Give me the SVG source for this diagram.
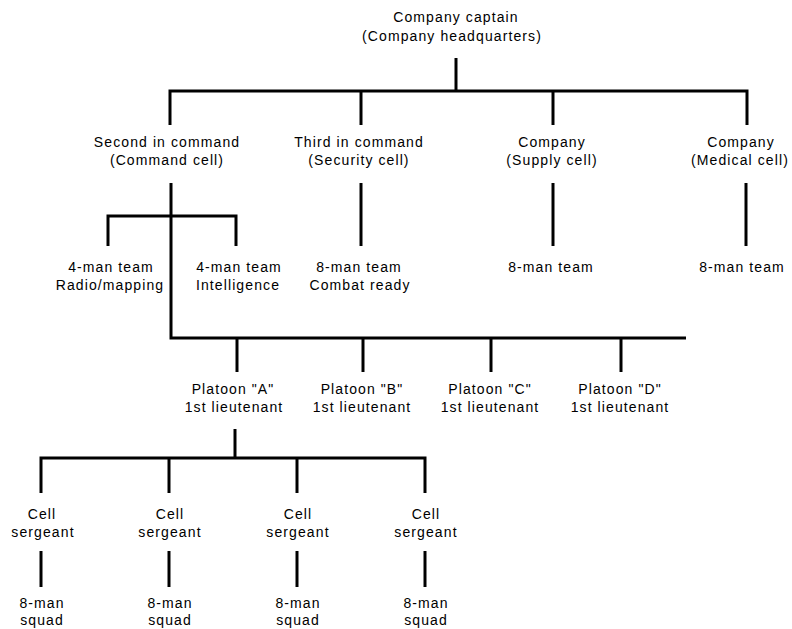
<svg xmlns="http://www.w3.org/2000/svg" width="792" height="629" viewBox="0 0 792 629">
<style>
text{font-family:"Liberation Sans",Arial,sans-serif;font-size:14px;letter-spacing:1.1px;fill:#000;text-anchor:middle}
.c{fill:none;stroke:#000;stroke-width:3;stroke-linecap:butt;stroke-linejoin:miter}
</style>
<rect width="792" height="629" fill="#fff"/>
<g id="connectors" class="c">
<path d="M456 58V91"/>
<path d="M170 125V91H747V125"/>
<path d="M361 91V125"/>
<path d="M553 91V125"/>
<path d="M171 183V338H686"/>
<path d="M108 246V216H236V246"/>
<path d="M361 183V246"/>
<path d="M553 183V246"/>
<path d="M746 183V246"/>
<path d="M237 338V372"/>
<path d="M363 338V372"/>
<path d="M491 338V372"/>
<path d="M621 338V372"/>
<path d="M235 429V458"/>
<path d="M41 493V458H425V493"/>
<path d="M169 458V493"/>
<path d="M297 458V493"/>
<path d="M41 551V587"/>
<path d="M169 551V587"/>
<path d="M297 551V587"/>
<path d="M425 551V587"/>
</g>
<g id="captain"><text x="456" y="22">Company captain</text><text x="452" y="41">(Company headquarters)</text></g>
<g id="second"><text x="167" y="147">Second in command</text><text x="167" y="165">(Command cell)</text></g>
<g id="third"><text x="359" y="147">Third in command</text><text x="359" y="165">(Security cell)</text></g>
<g id="supply"><text x="552" y="147">Company</text><text x="552" y="165">(Supply cell)</text></g>
<g id="medical"><text x="741" y="147">Company</text><text x="740" y="165">(Medical cell)</text></g>
<g id="radio"><text x="111" y="272">4-man team</text><text x="110" y="290">Radio/mapping</text></g>
<g id="intel"><text x="239" y="272">4-man team</text><text x="238" y="290">Intelligence</text></g>
<g id="combat"><text x="359" y="272">8-man team</text><text x="360" y="290">Combat ready</text></g>
<g id="supplyteam"><text x="551" y="272">8-man team</text></g>
<g id="medicalteam"><text x="742" y="272">8-man team</text></g>
<g id="platoonA"><text x="233" y="394">Platoon "A"</text><text x="234" y="412">1st lieutenant</text></g>
<g id="platoonB"><text x="362" y="394">Platoon "B"</text><text x="362" y="412">1st lieutenant</text></g>
<g id="platoonC"><text x="490" y="394">Platoon "C"</text><text x="490" y="412">1st lieutenant</text></g>
<g id="platoonD"><text x="620" y="394">Platoon "D"</text><text x="620" y="412">1st lieutenant</text></g>
<g id="cell1"><text x="42" y="519">Cell</text><text x="43" y="537">sergeant</text></g>
<g id="cell2"><text x="170" y="519">Cell</text><text x="170" y="537">sergeant</text></g>
<g id="cell3"><text x="298" y="519">Cell</text><text x="298" y="537">sergeant</text></g>
<g id="cell4"><text x="426" y="519">Cell</text><text x="426" y="537">sergeant</text></g>
<g id="squad1"><text x="42" y="608">8-man</text><text x="42" y="625">squad</text></g>
<g id="squad2"><text x="170" y="608">8-man</text><text x="170" y="625">squad</text></g>
<g id="squad3"><text x="298" y="608">8-man</text><text x="298" y="625">squad</text></g>
<g id="squad4"><text x="426" y="608">8-man</text><text x="426" y="625">squad</text></g>
</svg>
